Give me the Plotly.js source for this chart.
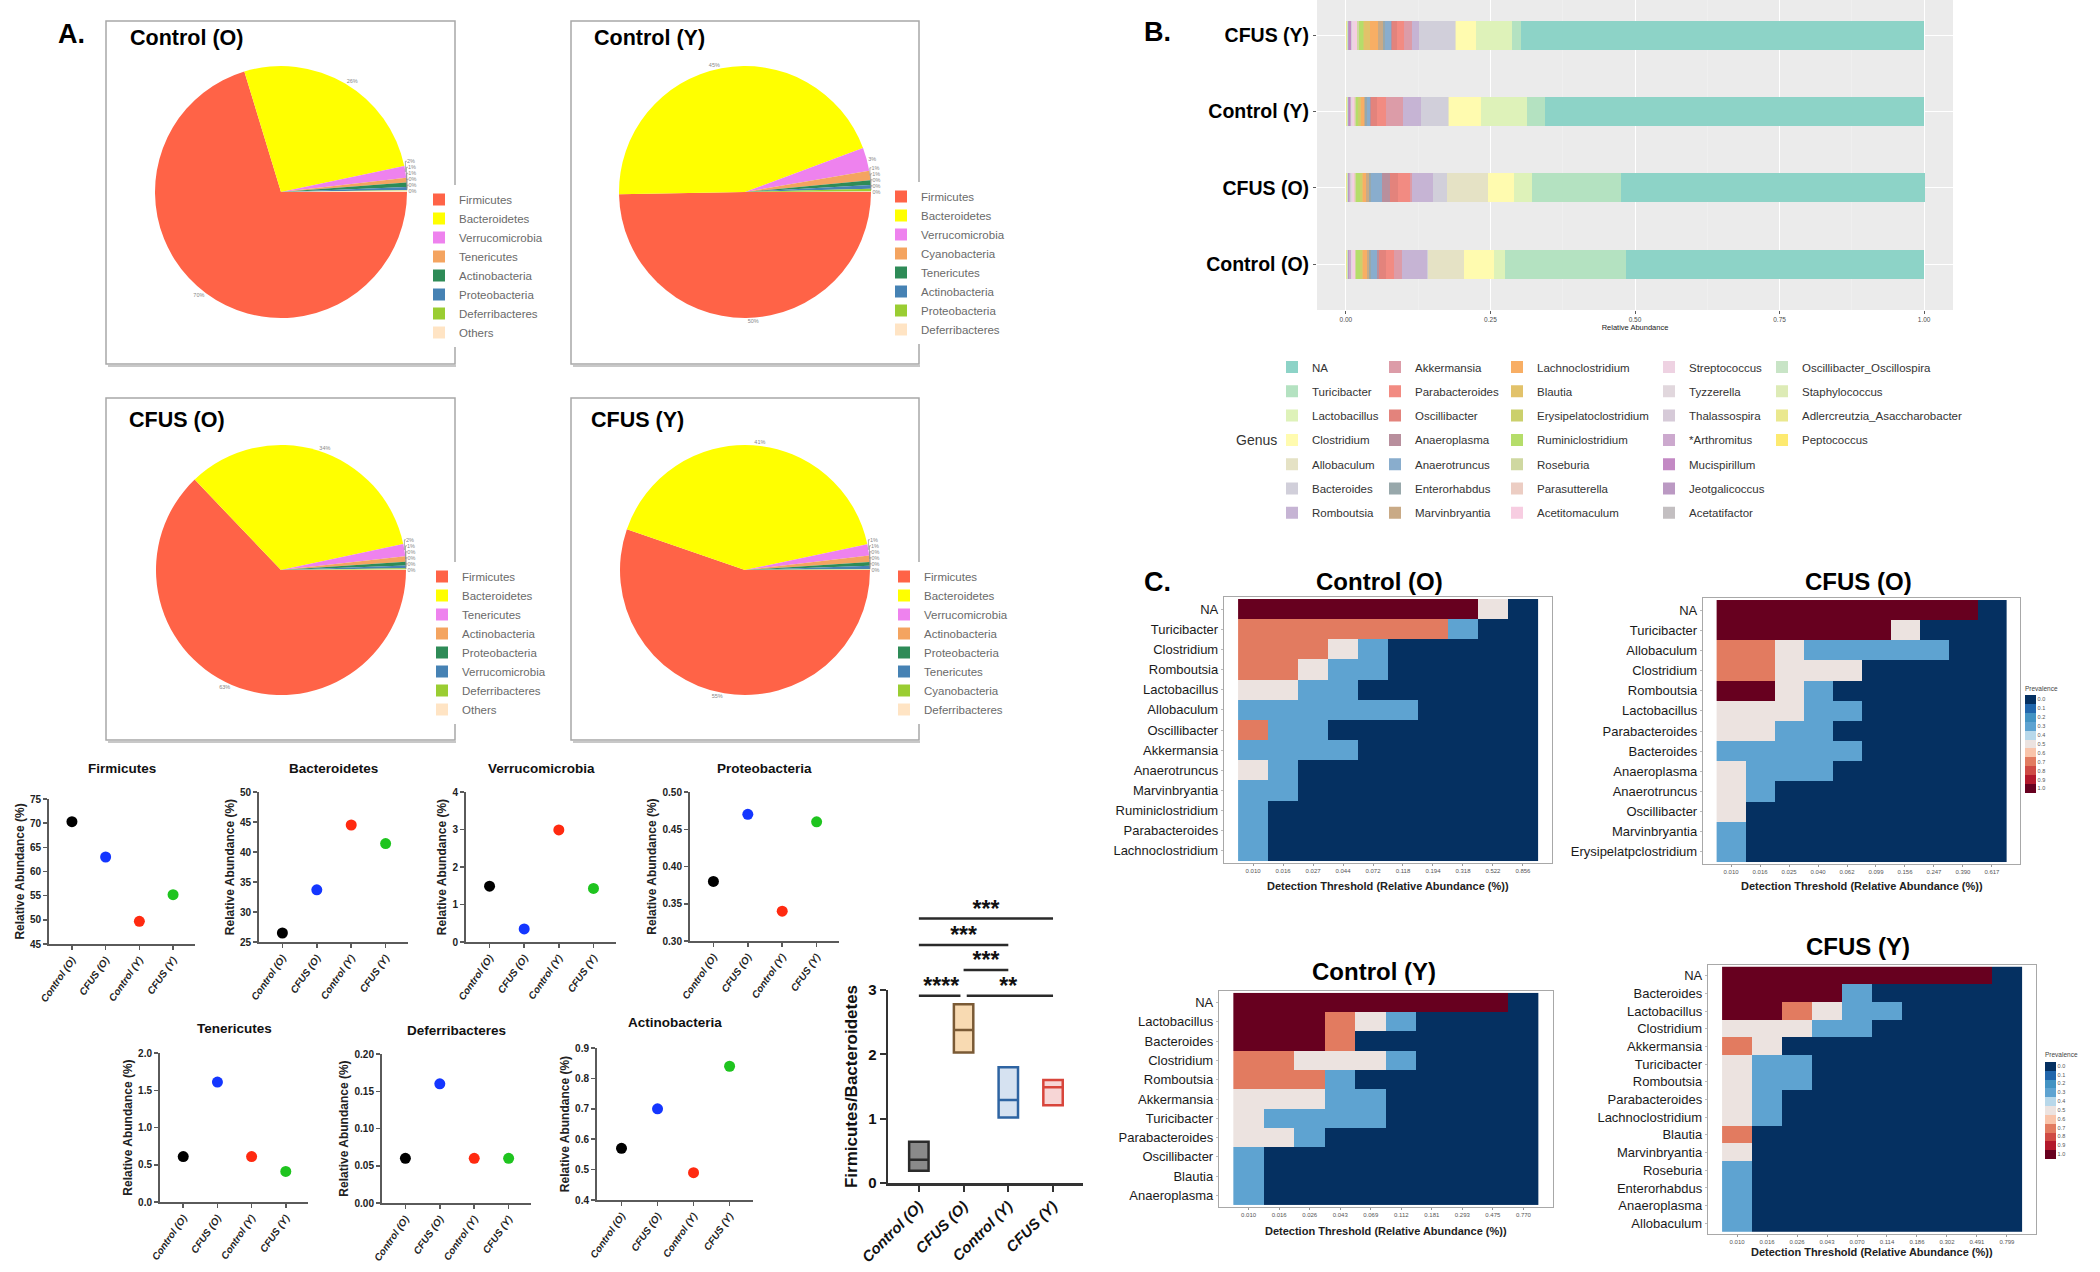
<!DOCTYPE html>
<html><head><meta charset="utf-8">
<script src="https://cdn.plot.ly/plotly-3.0.1.min.js"></script>
<style>html,body{margin:0;padding:0;background:#fff}#chart{width:2100px;height:1272px}</style>
</head><body><div id="chart"></div>
<script>
// ================= DATA =================
// Panel A – phylum pies
const pieControlO_labels = ['Firmicutes','Bacteroidetes','Verrucomicrobia','Tenericutes','Actinobacteria','Proteobacteria','Deferribacteres','Others'];
const pieControlO_values = [70.3, 26.4, 1.5, 0.6, 0.57, 0.38, 0.06, 0.19];
const pieControlY_labels = ['Firmicutes','Bacteroidetes','Verrucomicrobia','Cyanobacteria','Tenericutes','Actinobacteria','Proteobacteria','Deferribacteres'];
const pieControlY_values = [49.7, 44.6, 3.0, 1.2, 0.6, 0.49, 0.34, 0.06];
const pieCfusO_labels = ['Firmicutes','Bacteroidetes','Tenericutes','Actinobacteria','Proteobacteria','Verrucomicrobia','Deferribacteres','Others'];
const pieCfusO_values = [62.9, 33.8, 1.6, 0.7, 0.47, 0.37, 0.16, 0.05];
const pieCfusY_labels = ['Firmicutes','Bacteroidetes','Verrucomicrobia','Actinobacteria','Proteobacteria','Tenericutes','Cyanobacteria','Deferribacteres'];
const pieCfusY_values = [55.3, 41.4, 1.45, 0.84, 0.46, 0.41, 0.08, 0.06];

// Panel A – phylum dot plots (Relative Abundance %)
const groups = ['Control (O)','CFUS (O)','Control (Y)','CFUS (Y)'];
const firmicutes      = [70.3, 63.0, 49.7, 55.2];
const bacteroidetes   = [26.5, 33.7, 44.5, 41.4];
const verrucomicrobia = [1.49, 0.35, 2.99, 1.43];
const proteobacteria  = [0.38, 0.47, 0.34, 0.46];
const tenericutes     = [0.61, 1.61, 0.61, 0.41];
const deferribacteres = [0.06, 0.16, 0.06, 0.06];
const actinobacteria  = [0.57, 0.70, 0.49, 0.84];

// Panel A – Firmicutes/Bacteroidetes floating bars
const fbMin    = [0.19, 2.03, 1.02, 1.21];
const fbMedian = [0.36, 2.38, 1.29, 1.49];
const fbMax    = [0.64, 2.78, 1.80, 1.60];
const sigPairs = [[0,3],[0,2],[1,2],[0,1],[1,3]];
const sigText  = ['***','***','***','****','**'];

// Panel B – genus relative abundance
const barGroups = ['Control (O)','CFUS (O)','Control (Y)','CFUS (Y)'];
const genus = ['NA','Turicibacter','Lactobacillus','Clostridium','Allobaculum','Bacteroides','Romboutsia',
 'Akkermansia','Parabacteroides','Oscillibacter','Anaeroplasma','Anaerotruncus','Enterorhabdus','Marvinbryantia',
 'Lachnoclostridium','Blautia','Erysipelatoclostridium','Ruminiclostridium','Roseburia','Parasutterella','Acetitomaculum',
 'Streptococcus','Tyzzerella','Thalassospira','*Arthromitus','Mucispirillum','Jeotgalicoccus','Acetatifactor',
 'Oscillibacter_Oscillospira','Staphylococcus','Adlercreutzia_Asaccharobacter','Peptococcus'];
const abundControlO = [0.516,0.208,0.020,0.052,0.062,0.002,0.043,0.014,0.013,0.013,0.003,0.010,0.004,0.004,0.006,0.002,0.003,0.007,0.002,0.001,0.003,0.002,0.001,0.001,0.002,0.001,0.001,0.001,0.001,0.0005,0.001,0.0005];
const abundCfusO    = [0.525,0.154,0.031,0.045,0.072,0.024,0.035,0.004,0.021,0.013,0.014,0.020,0.003,0.005,0.005,0.002,0.004,0.006,0.003,0.001,0.002,0.002,0.002,0.001,0.001,0.001,0.001,0.001,0.001,0.0005,0.001,0.0005];
const abundControlY = [0.656,0.030,0.081,0.054,0.002,0.047,0.031,0.029,0.016,0.010,0.002,0.006,0.003,0.002,0.005,0.002,0.003,0.004,0.002,0.001,0.002,0.002,0.001,0.001,0.001,0.002,0.001,0.001,0.001,0.0005,0.001,0.0005];
const abundCfusY    = [0.698,0.015,0.062,0.035,0.001,0.062,0.013,0.013,0.012,0.009,0.002,0.010,0.004,0.009,0.014,0.009,0.003,0.007,0.002,0.001,0.004,0.004,0.001,0.001,0.001,0.003,0.001,0.001,0.001,0.0005,0.001,0.0005];

// Panel C – core microbiome prevalence heatmaps
const hmControlO_rows = ['NA','Turicibacter','Clostridium','Romboutsia','Lactobacillus','Allobaculum','Oscillibacter','Akkermansia','Anaerotruncus','Marvinbryantia','Ruminiclostridium','Parabacteroides','Lachnoclostridium'];
const hmControlO_thr  = ['0.010','0.016','0.027','0.044','0.072','0.118','0.194','0.318','0.522','0.856'];
const hmControlO_prev = [
 [1,1,1,1,1,1,1,1,0.5,0],
 [0.7,0.7,0.7,0.7,0.7,0.7,0.7,0.3,0,0],
 [0.7,0.7,0.7,0.5,0.3,0,0,0,0,0],
 [0.7,0.7,0.5,0.3,0.3,0,0,0,0,0],
 [0.5,0.5,0.3,0.3,0,0,0,0,0,0],
 [0.3,0.3,0.3,0.3,0.3,0.3,0,0,0,0],
 [0.7,0.3,0.3,0,0,0,0,0,0,0],
 [0.3,0.3,0.3,0.3,0,0,0,0,0,0],
 [0.5,0.3,0,0,0,0,0,0,0,0],
 [0.3,0.3,0,0,0,0,0,0,0,0],
 [0.3,0,0,0,0,0,0,0,0,0],
 [0.3,0,0,0,0,0,0,0,0,0],
 [0.3,0,0,0,0,0,0,0,0,0]];
const hmCfusO_rows = ['NA','Turicibacter','Allobaculum','Clostridium','Romboutsia','Lactobacillus','Parabacteroides','Bacteroides','Anaeroplasma','Anaerotruncus','Oscillibacter','Marvinbryantia','Erysipelatpclostridium'];
const hmCfusO_thr  = ['0.010','0.016','0.025','0.040','0.062','0.099','0.156','0.247','0.390','0.617'];
const hmCfusO_prev = [
 [1,1,1,1,1,1,1,1,1,0],
 [1,1,1,1,1,1,0.5,0,0,0],
 [0.7,0.7,0.5,0.3,0.3,0.3,0.3,0.3,0,0],
 [0.7,0.7,0.5,0.5,0.5,0,0,0,0,0],
 [1,1,0.5,0.3,0,0,0,0,0,0],
 [0.5,0.5,0.5,0.3,0.3,0,0,0,0,0],
 [0.5,0.5,0.3,0.3,0,0,0,0,0,0],
 [0.3,0.3,0.3,0.3,0.3,0,0,0,0,0],
 [0.5,0.3,0.3,0.3,0,0,0,0,0,0],
 [0.5,0.3,0,0,0,0,0,0,0,0],
 [0.5,0,0,0,0,0,0,0,0,0],
 [0.3,0,0,0,0,0,0,0,0,0],
 [0.3,0,0,0,0,0,0,0,0,0]];
const hmControlY_rows = ['NA','Lactobacillus','Bacteroides','Clostridium','Romboutsia','Akkermansia','Turicibacter','Parabacteroides','Oscillibacter','Blautia','Anaeroplasma'];
const hmControlY_thr  = ['0.010','0.016','0.026','0.043','0.069','0.112','0.181','0.293','0.475','0.770'];
const hmControlY_prev = [
 [1,1,1,1,1,1,1,1,1,0],
 [1,1,1,0.7,0.5,0.3,0,0,0,0],
 [1,1,1,0.7,0,0,0,0,0,0],
 [0.7,0.7,0.5,0.5,0.5,0.3,0,0,0,0],
 [0.7,0.7,0.7,0.3,0,0,0,0,0,0],
 [0.5,0.5,0.5,0.3,0.3,0,0,0,0,0],
 [0.5,0.3,0.3,0.3,0.3,0,0,0,0,0],
 [0.5,0.5,0.3,0,0,0,0,0,0,0],
 [0.3,0,0,0,0,0,0,0,0,0],
 [0.3,0,0,0,0,0,0,0,0,0],
 [0.3,0,0,0,0,0,0,0,0,0]];
const hmCfusY_rows = ['NA','Bacteroides','Lactobacillus','Clostridium','Akkermansia','Turicibacter','Romboutsia','Parabacteroides','Lachnoclostridium','Blautia','Marvinbryantia','Roseburia','Enterorhabdus','Anaeroplasma','Allobaculum'];
const hmCfusY_thr  = ['0.010','0.016','0.026','0.043','0.070','0.114','0.186','0.302','0.491','0.799'];
const hmCfusY_prev = [
 [1,1,1,1,1,1,1,1,1,0],
 [1,1,1,1,0.3,0,0,0,0,0],
 [1,1,0.7,0.5,0.3,0.3,0,0,0,0],
 [0.5,0.5,0.5,0.3,0.3,0,0,0,0,0],
 [0.7,0.5,0,0,0,0,0,0,0,0],
 [0.5,0.3,0.3,0,0,0,0,0,0,0],
 [0.5,0.3,0.3,0,0,0,0,0,0,0],
 [0.5,0.3,0,0,0,0,0,0,0,0],
 [0.5,0.3,0,0,0,0,0,0,0,0],
 [0.7,0,0,0,0,0,0,0,0,0],
 [0.5,0,0,0,0,0,0,0,0,0],
 [0.3,0,0,0,0,0,0,0,0,0],
 [0.3,0,0,0,0,0,0,0,0,0],
 [0.3,0,0,0,0,0,0,0,0,0],
 [0.3,0,0,0,0,0,0,0,0,0]];
const prevLevels = ['0.0','0.1','0.2','0.3','0.4','0.5','0.6','0.7','0.8','0.9','1.0'];

// ================= STYLES =================
const pieColors = ['#FF6347','#FFFF00','#EE82EE','#F4A460','#2E8B57','#4682B4','#9ACD32','#FFE4C4'];
const dotColors = ['#000000','#1436FF','#FF2A10','#1FC41F'];
const fbFill = ['#8A8A8A','#F8DAB2','#D6E2F1','#F7D6D6'];
const fbLine = ['#2B2B2B','#7A5A35','#2E64A2','#D8453B'];
const genusColors = ['#8DD3C7','#B4E2C1','#DEF2B9','#FFFBAF','#E5E2C5','#D1CFDA','#C6B4D4','#DC9CA8','#F28B82','#E3837C','#B88F9D','#89ADCD','#98A8AB','#C9AA86','#F8AE64','#E2C26A','#CBD06C','#B5DD6A','#CFD8A1','#ECCDC3','#F7CDE1','#EED2E2','#E1D7DD','#D6CAD8','#CCA9CE','#C389C4','#BB99C3','#C3BFC1','#C8E4C6','#DDEBB6','#EAE88E','#FDEA70'];
const prevColors = ['#053061','#2166AC','#4393C3','#5EA3D1','#B8D8EA','#ECE3E0','#F9C4AA','#E27B60','#CF4A44','#B2182B','#67001F'];

const W = 2100, H = 1272;
const fx = p => p / W;
const fy = p => 1 - p / H;
const FONT = 'Liberation Sans, Arial, sans-serif';

const traces = [];
const layout = {
  width: W, height: H, margin: {l:0, r:0, t:0, b:0, autoexpand:false},
  paper_bgcolor: '#ffffff', plot_bgcolor: 'rgba(0,0,0,0)',
  font: {family: FONT, color: '#222'},
  showlegend: true, boxmode: 'overlay', boxgap: 0.38, bargap: 0.62, barmode: 'stack',
  annotations: [], shapes: []
};
function ann(text, xpx, ypx, o) {
  layout.annotations.push(Object.assign({text, x: fx(xpx), y: fy(ypx), xref:'paper', yref:'paper',
    showarrow:false, xanchor:'left', yanchor:'middle', font:{family:FONT, size:12, color:'#000'}}, o || {}));
}

// ================= PANEL A: PIES =================
const pieSpecs = [
  {title:'Control (O)', labels:pieControlO_labels, values:pieControlO_values, c:[281,192], r:126, box:[106,21,455,364], tpos:[128,38], leg:'legend',  lx:419, ly:199.5},
  {title:'Control (Y)', labels:pieControlY_labels, values:pieControlY_values, c:[745,192], r:126, box:[571,21,919,364], tpos:[592,38], leg:'legend2', lx:881, ly:196.5},
  {title:'CFUS (O)',    labels:pieCfusO_labels,    values:pieCfusO_values,    c:[281,570], r:125, box:[106,398,455,740], tpos:[127,420], leg:'legend3', lx:422, ly:576.5},
  {title:'CFUS (Y)',    labels:pieCfusY_labels,    values:pieCfusY_values,    c:[745,570], r:125, box:[571,398,919,740], tpos:[589,420], leg:'legend4', lx:884, ly:576.5}
];
pieSpecs.forEach((s, k) => {
  layout.shapes.push({type:'rect', xref:'paper', yref:'paper', x0:fx(s.box[0]), x1:fx(s.box[2]), y0:fy(s.box[3]), y1:fy(s.box[1]),
    line:{color:'#A8A8A8', width:1.5}, fillcolor:'rgba(0,0,0,0)', layer:'below'});
  layout.shapes.push({type:'line', xref:'paper', yref:'paper', x0:fx(s.box[0]+2), x1:fx(s.box[2]+1), y0:fy(s.box[3]+2), y1:fy(s.box[3]+2),
    line:{color:'#C8C8C8', width:2}, layer:'below'});
  traces.push({type:'pie', labels:s.labels, values:s.values, sort:false, direction:'clockwise', rotation:90,
    marker:{colors:pieColors, line:{width:0}}, textposition:'outside', texttemplate:'%{percent:.0%}',
    textfont:{size:5.5, color:'#888', family:FONT},
    domain:{x:[fx(s.c[0]-s.r), fx(s.c[0]+s.r)], y:[fy(s.c[1]+s.r), fy(s.c[1]-s.r)]},
    legend:s.leg, legendgroup:'pie' + k, showlegend:true, hoverinfo:'label+percent'});
  layout[s.leg] = {x:fx(s.lx), y:fy(s.ly-14.5), xanchor:'left', yanchor:'top', bgcolor:'#ffffff',
    font:{family:FONT, size:11.5, color:'#6A6A6A'}, traceorder:'normal', borderwidth:0};
  ann(s.title, s.tpos[0], s.tpos[1], {font:{family:FONT, size:21.5, weight:'bold', color:'#000'}});
});
ann('A.', 56, 34, {font:{family:FONT, size:27, weight:'bold', color:'#000'}});

// ================= PANEL A: DOT PLOTS =================
const dotPanels = [
  {t:'Firmicutes',      v:firmicutes,      r:[45,75],     d:5,    f:'d',   x:[49,195],  y:[799,944],  ty:769},
  {t:'Bacteroidetes',   v:bacteroidetes,   r:[25,50],     d:5,    f:'d',   x:[259,408], y:[792,942],  ty:769},
  {t:'Verrucomicrobia', v:verrucomicrobia, r:[0,4],       d:1,    f:'d',   x:[466,616], y:[792,942],  ty:769},
  {t:'Proteobacteria',  v:proteobacteria,  r:[0.30,0.50], d:0.05, f:'.2f', x:[690,839], y:[792,941],  ty:769},
  {t:'Tenericutes',     v:tenericutes,     r:[0,2],       d:0.5,  f:'.1f', x:[160,308], y:[1053,1202],ty:1028},
  {t:'Deferribacteres', v:deferribacteres, r:[0,0.20],    d:0.05, f:'.2f', x:[382,531], y:[1054,1203],ty:1030},
  {t:'Actinobacteria',  v:actinobacteria,  r:[0.4,0.9],   d:0.1,  f:'.1f', x:[597,753], y:[1048,1200],ty:1022}
];
dotPanels.forEach((p, k) => {
  const n = k + 1, sx = n === 1 ? '' : String(n);
  traces.push({type:'scatter', mode:'markers', x:groups, y:p.v, xaxis:'x'+sx, yaxis:'y'+sx,
    marker:{size:11, color:dotColors}, showlegend:false, cliponaxis:false});
  layout['xaxis'+sx] = {domain:[fx(p.x[0]), fx(p.x[1])], anchor:'y'+sx, type:'category', range:[-0.68,3.65],
    showline:true, linecolor:'#5A5A5A', linewidth:2, ticks:'outside', ticklen:4, tickwidth:1.5, tickcolor:'#5A5A5A',
    tickangle:-55, tickfont:{family:FONT, size:10, weight:'bold', style:'italic', color:'#222'},
    showgrid:false, zeroline:false, fixedrange:true};
  layout['yaxis'+sx] = {domain:[fy(p.y[1]), fy(p.y[0])], anchor:'x'+sx, range:p.r, dtick:p.d, tickformat:p.f,
    showline:true, linecolor:'#5A5A5A', linewidth:2, ticks:'outside', ticklen:4, tickwidth:1.5, tickcolor:'#5A5A5A',
    tickfont:{family:FONT, size:10, weight:'bold', color:'#222'}, showgrid:false, zeroline:false,
    title:{text:'Relative Abundance (%)', font:{family:FONT, size:12, weight:'bold', color:'#222'}, standoff:3}};
  layout.annotations.push({text:p.t, xref:'x'+sx+' domain', x:0.5, yref:'paper', y:fy(p.ty), xanchor:'center', yanchor:'middle',
    showarrow:false, font:{family:FONT, size:13.5, weight:'bold', color:'#111'}});
});

// ================= PANEL A: F/B RATIO =================
groups.forEach((g, i) => {
  traces.push({type:'box', x:[g], q1:[fbMin[i]], median:[fbMedian[i]], q3:[fbMax[i]], lowerfence:[fbMin[i]], upperfence:[fbMax[i]],
    xaxis:'x8', yaxis:'y8', fillcolor:fbFill[i], line:{color:fbLine[i], width:2.5}, whiskerwidth:0,
    boxpoints:false, showlegend:false, hoverinfo:'skip'});
});
const FB_Y0 = 1183, FB_UNIT = 64.33;
layout.xaxis8 = {domain:[fx(888), fx(1083)], anchor:'y8', type:'category', categoryorder:'array', categoryarray:groups,
  range:[-0.69,3.67], showline:true, linecolor:'#333', linewidth:2.5, ticks:'outside', ticklen:6, tickwidth:2, tickcolor:'#333',
  tickangle:-45, tickfont:{family:FONT, size:15, weight:'bold', style:'italic', color:'#111'}, showgrid:false, zeroline:false};
layout.yaxis8 = {domain:[fy(FB_Y0), fy(FB_Y0-3*FB_UNIT)], anchor:'x8', range:[0,3], dtick:1,
  showline:true, linecolor:'#333', linewidth:2.5, ticks:'outside', ticklen:6, tickwidth:2, tickcolor:'#333',
  tickfont:{family:FONT, size:15, weight:'bold', color:'#111'}, showgrid:false, zeroline:false,
  title:{text:'Firmicutes/Bacteroidetes', font:{family:FONT, size:17, weight:'bold', color:'#111'}, standoff:6}};
// significance bars (same data units, separate overlay subplot)
const sigLevel = [4.11, 3.70, 3.31, 2.91, 2.91];
const sx = [], sy = [], tx = [], ty = [];
sigPairs.forEach((pr, i) => {
  let a = pr[0], b = pr[1];
  sigPairs.forEach((q, j) => {
    if (j !== i && sigLevel[j] === sigLevel[i]) {
      if (q[1] === a) a += 0.07;
      if (q[0] === b) b -= 0.07;
    }
  });
  sx.push(a, b, null); sy.push(sigLevel[i], sigLevel[i], null);
  tx.push((pr[0] + pr[1]) / 2); ty.push(sigLevel[i] + 0.12);
});
traces.push({type:'scatter', mode:'lines', x:sx, y:sy, xaxis:'x9', yaxis:'y9', line:{color:'#2A2A2A', width:2.5},
  showlegend:false, hoverinfo:'skip'});
traces.push({type:'scatter', mode:'text', x:tx, y:ty, text:sigText, xaxis:'x9', yaxis:'y9', textposition:'middle center',
  textfont:{family:FONT, size:23, weight:'bold', color:'#111'}, showlegend:false, hoverinfo:'skip', cliponaxis:false});
layout.xaxis9 = {domain:layout.xaxis8.domain, anchor:'y9', range:[-0.69,3.67], visible:false, fixedrange:true};
layout.yaxis9 = {domain:[fy(FB_Y0-2.7*FB_UNIT), fy(FB_Y0-4.5*FB_UNIT)], anchor:'x9', range:[2.7,4.5], visible:false, fixedrange:true};

// ================= PANEL B: STACKED BARS =================
for (let i = genus.length - 1; i >= 0; i--) {
  const col = Math.floor(i / 7);
  traces.push({type:'bar', orientation:'h', name:genus[i], y:barGroups,
    x:[abundControlO[i], abundCfusO[i], abundControlY[i], abundCfusY[i]],
    xaxis:'x10', yaxis:'y10', marker:{color:genusColors[i], line:{width:0}},
    legend: col === 0 ? 'legend5' : 'legend' + (5 + col), legendgroup:'g' + i, legendrank:i + 1, showlegend:true,
    hovertemplate:'%{y}: %{x}<extra>' + genus[i] + '</extra>'});
}
layout.xaxis10 = {domain:[fx(1317), fx(1953)], anchor:'y10', range:[-0.05,1.05],
  tickvals:[0,0.25,0.5,0.75,1], ticktext:['0.00','0.25','0.50','0.75','1.00'],
  tickfont:{family:FONT, size:6.5, color:'#4D4D4D'}, ticks:'outside', ticklen:3, tickwidth:0.8, tickcolor:'#333',
  showgrid:true, gridcolor:'#FFFFFF', gridwidth:1, zeroline:false, showline:false,
  minor:{tickvals:[0.125,0.375,0.625,0.875], showgrid:true, gridcolor:'#F4F4F4', gridwidth:0.5, ticks:''},
  title:{text:'Relative Abundance', font:{family:FONT, size:7.5, color:'#222'}, standoff:2}};
layout.yaxis10 = {domain:[fy(310), fy(0)], anchor:'x10', type:'category', categoryorder:'array', categoryarray:barGroups,
  range:[-0.6,3.46], tickfont:{family:FONT, size:19.5, weight:'bold', color:'#000'}, ticks:'outside', ticklen:3,
  tickcolor:'#333', tickwidth:0.8, showgrid:true, gridcolor:'#FFFFFF', gridwidth:1, zeroline:false, showline:false};
layout.shapes.push({type:'rect', xref:'x10 domain', yref:'y10 domain', x0:0, x1:1, y0:0, y1:1,
  fillcolor:'#EBEBEB', line:{width:0}, layer:'below'});
const legColX = [1272, 1375, 1497, 1649, 1762];
legColX.forEach((lx, c) => {
  const key = c === 0 ? 'legend5' : 'legend' + (5 + c);
  layout[key] = {x:fx(lx), y:fy(367-14.5), xanchor:'left', yanchor:'top', bgcolor:'rgba(0,0,0,0)',
    font:{family:FONT, size:11.5, color:'#333'}, traceorder:'grouped', tracegroupgap:5.3, borderwidth:0};
});
ann('B.', 1142, 32, {font:{family:FONT, size:27, weight:'bold', color:'#000'}});
ann('Genus', 1234, 440, {font:{family:FONT, size:14, color:'#333'}});

// ================= PANEL C: HEATMAPS =================
const n = prevLevels.length;
const prevScale = [];
for (let k = 0; k < n; k++) {
  const c = prevColors[n - 1 - k];
  prevScale.push([k / n, c], [(k + 1) / n, c]);
}
const hmSpecs = [
  {title:'Control (O)', rows:hmControlO_rows, thr:hmControlO_thr, z:hmControlO_prev, x:[1224,1552], y:[597,863], tpos:[1379,582], xt:886,  cb:null},
  {title:'CFUS (O)',    rows:hmCfusO_rows,    thr:hmCfusO_thr,    z:hmCfusO_prev,    x:[1703,2020], y:[598,864], tpos:[1858,582], xt:886,  cb:[2025,738,110]},
  {title:'Control (Y)', rows:hmControlY_rows, thr:hmControlY_thr, z:hmControlY_prev, x:[1219,1553], y:[991,1207],tpos:[1374,971], xt:1231, cb:null},
  {title:'CFUS (Y)',    rows:hmCfusY_rows,    thr:hmCfusY_thr,    z:hmCfusY_prev,    x:[1708,2036], y:[965,1234],tpos:[1858,946], xt:1252, cb:[2045,1104,109]}
];
hmSpecs.forEach((s, k) => {
  const id = String(11 + k);
  const tr = {type:'heatmap', x:s.thr, y:s.rows, z:s.z.map(r => r.map(v => -v)), xaxis:'x'+id, yaxis:'y'+id,
    zmin:-1.05, zmax:0.05, colorscale:prevScale, showscale:!!s.cb, showlegend:false,
    hovertemplate:'%{y} @ %{x}<extra></extra>'};
  if (s.cb) {
    tr.colorbar = {x:fx(s.cb[0]), xanchor:'left', y:fy(s.cb[1]), yanchor:'middle', len:s.cb[2], lenmode:'pixels',
      thickness:11, thicknessmode:'pixels', xpad:0, ypad:0, outlinewidth:0, ticks:'',
      tickvals:prevLevels.map(v => -parseFloat(v)), ticktext:prevLevels,
      tickfont:{family:FONT, size:5.5, color:'#555'},
      title:{text:'Prevalence', side:'top', font:{family:FONT, size:6.5, color:'#444'}}};
  }
  traces.push(tr);
  const nr = s.rows.length;
  layout['xaxis'+id] = {domain:[fx(s.x[0]), fx(s.x[1])], anchor:'y'+id, type:'category', range:[-0.97, 9.97],
    showline:true, mirror:true, linecolor:'#A8A8A8', linewidth:1.2, ticks:'outside', ticklen:2, tickcolor:'#999',
    tickfont:{family:FONT, size:6, color:'#555'}, showgrid:false, zeroline:false};
  layout['yaxis'+id] = {domain:[fy(s.y[1]), fy(s.y[0])], anchor:'x'+id, type:'category', range:[nr - 0.4, -0.6],
    showline:true, mirror:true, linecolor:'#A8A8A8', linewidth:1.2, ticks:'outside', ticklen:2, tickcolor:'#BBB',
    tickfont:{family:FONT, size:13, color:'#1A1A1A'}, showgrid:false, zeroline:false};
  ann(s.title, s.tpos[0], s.tpos[1], {xanchor:'center', font:{family:FONT, size:24, weight:'bold', color:'#000'}});
  ann('Detection Threshold (Relative Abundance (%))', (s.x[0]+s.x[1])/2, s.xt,
    {xanchor:'center', font:{family:FONT, size:11, weight:'bold', color:'#222'}});
});
ann('C.', 1142, 582, {font:{family:FONT, size:27, weight:'bold', color:'#000'}});

Plotly.newPlot('chart', traces, layout, {staticPlot:true});
</script>
</body></html>
